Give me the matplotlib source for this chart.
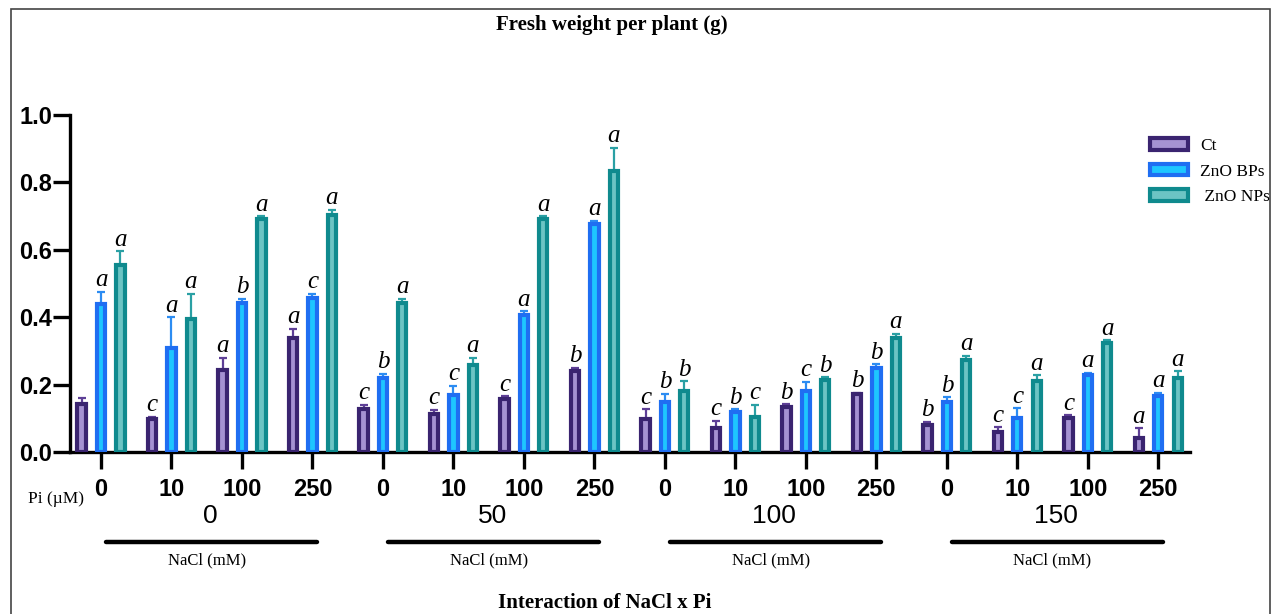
import matplotlib
matplotlib.use("Agg")
import matplotlib.pyplot as plt
import matplotlib.transforms as mtransforms
from matplotlib.patches import Rectangle
import numpy as np

# data
nacl = ["0", "50", "100", "150"]
pi_levels = ["0", "10", "100", "250"]
series = ["Ct", "ZnO BPs", " ZnO NPs"]

ct = [0.143, 0.098, 0.243, 0.338,
      0.128, 0.113, 0.157, 0.240,
      0.098, 0.070, 0.133, 0.172,
      0.080, 0.060, 0.100, 0.042]
ct_err = [0.017, 0.007, 0.037, 0.027,
          0.012, 0.012, 0.009, 0.010,
          0.029, 0.023, 0.009, 0.004,
          0.009, 0.014, 0.009, 0.029]
bps = [0.440, 0.310, 0.442, 0.457,
       0.220, 0.170, 0.407, 0.677,
       0.148, 0.120, 0.180, 0.248,
       0.148, 0.100, 0.228, 0.166]
bps_err = [0.035, 0.090, 0.013, 0.013,
           0.012, 0.026, 0.011, 0.009,
           0.024, 0.007, 0.028, 0.012,
           0.015, 0.030, 0.007, 0.009]
nps = [0.555, 0.395, 0.690, 0.703,
       0.442, 0.258, 0.690, 0.834,
       0.180, 0.103, 0.213, 0.338,
       0.272, 0.210, 0.323, 0.220]
nps_err = [0.040, 0.075, 0.010, 0.015,
           0.013, 0.021, 0.010, 0.069,
           0.030, 0.037, 0.009, 0.012,
           0.013, 0.018, 0.009, 0.020]

ct_letters = ["", "c", "a", "a", "c", "c", "c", "b",
              "c", "c", "b", "b", "b", "c", "c", "a"]
bps_letters = ["a", "a", "b", "c", "b", "c", "a", "a",
               "b", "b", "c", "b", "b", "c", "a", "a"]
nps_letters = ["a", "a", "a", "a", "a", "a", "a", "a",
               "b", "c", "b", "a", "a", "a", "a", "a"]

edge_colors = ["#3a2470", "#1f6ef2", "#0f8a8e"]
fill_colors = ["#a592d2", "#1ec6ff", "#6cc4c4"]
err_colors = ["#5e3f96", "#2c8cf2", "#2aa0a4"]

plt.rcParams["font.family"] = ["Liberation Sans", "DejaVu Sans"]
serif = ["Liberation Serif", "DejaVu Serif"]

fig = plt.figure(figsize=(12.73, 6.14), dpi=100)
ax = fig.add_axes([70 / 1273, 1 - 452 / 614, 1120 / 1273, 337 / 614])

x = np.arange(len(nacl) * len(pi_levels))
offsets = [-0.275, 0.0, 0.275]
width = 0.118
vals = [ct, bps, nps]
errs = [ct_err, bps_err, nps_err]
letters = [ct_letters, bps_letters, nps_letters]

for i in range(3):
    xs = x + offsets[i]
    ax.bar(xs, vals[i], width, color=fill_colors[i], edgecolor=edge_colors[i],
           linewidth=3, label=series[i], zorder=3)
    ax.errorbar(xs, vals[i], yerr=[np.zeros(len(x)), errs[i]], fmt="none",
                ecolor=err_colors[i], elinewidth=1.6, capsize=3, capthick=1.6,
                zorder=2, clip_on=False)
    for xx, v, e, t in zip(xs, vals[i], errs[i], letters[i]):
        if t:
            ax.annotate(t, (xx, v + e), xytext=(0, 4), textcoords="offset points",
                        ha="center", va="baseline", fontsize=18, style="italic",
                        family=serif)

ax.set_xlim(-0.44, 15.45)
ax.set_ylim(0, 1.0)
ax.set_yticks(np.arange(0, 1.01, 0.2))
ax.set_yticklabels(["%.1f" % v for v in np.arange(0, 1.01, 0.2)])
ax.set_xticks(x)
ax.set_xticklabels(pi_levels * len(nacl))
for s in ["top", "right"]:
    ax.spines[s].set_visible(False)
for s in ["left", "bottom"]:
    ax.spines[s].set_linewidth(2.4)
ax.tick_params(axis="both", length=12, width=2.4, labelsize=17, direction="out")
ax.tick_params(axis="y", pad=1)
ax.tick_params(axis="x", pad=7)
for lab in ax.get_xticklabels() + ax.get_yticklabels():
    lab.set_fontweight("bold")

# NaCl group labels, underlines and captions
trans = mtransforms.blended_transform_factory(ax.transData, ax.transAxes)
for g, name in enumerate(nacl):
    c = g * 4 + 1.5
    ax.text(c + 0.05, -0.19, name, transform=trans, ha="center", va="center",
            fontsize=19)
    ax.plot([g * 4 + 0.07, g * 4 + 3.07], [-0.267, -0.267], transform=trans,
            color="black", linewidth=3.2, solid_capstyle="round", clip_on=False)
    ax.text(c, -0.322, "NaCl (mM)", transform=trans, ha="center", va="center",
            fontsize=12, family=serif)

fig.text(56 / 1273, 1 - 499 / 614, "Pi (µM)", ha="center", va="center",
         fontsize=12.5, family=serif)
fig.text(612 / 1273, 1 - 25 / 614, "Fresh weight per plant (g)", ha="center",
         va="center", fontsize=15, fontweight="bold", family=serif)
fig.text(605 / 1273, 1 - 603 / 614, "Interaction of NaCl x Pi", ha="center",
         va="center", fontsize=15, fontweight="bold", family=serif)

ax.legend(loc="upper left", bbox_to_anchor=(1150 / 1273, 1 - 138 / 614),
          bbox_transform=fig.transFigure, frameon=False,
          prop={"family": serif, "size": 12.5}, handlelength=2.2,
          handleheight=0.62, labelspacing=0.55, handletextpad=0.7,
          borderaxespad=0, borderpad=0)

# picture frame
fig.patches.append(Rectangle((11 / 1273, -0.1), 1259 / 1273, 1.1 - 9 / 614,
                             transform=fig.transFigure, fill=False,
                             edgecolor="#444444", linewidth=1.2))

fig.savefig("out.png", dpi=100)
